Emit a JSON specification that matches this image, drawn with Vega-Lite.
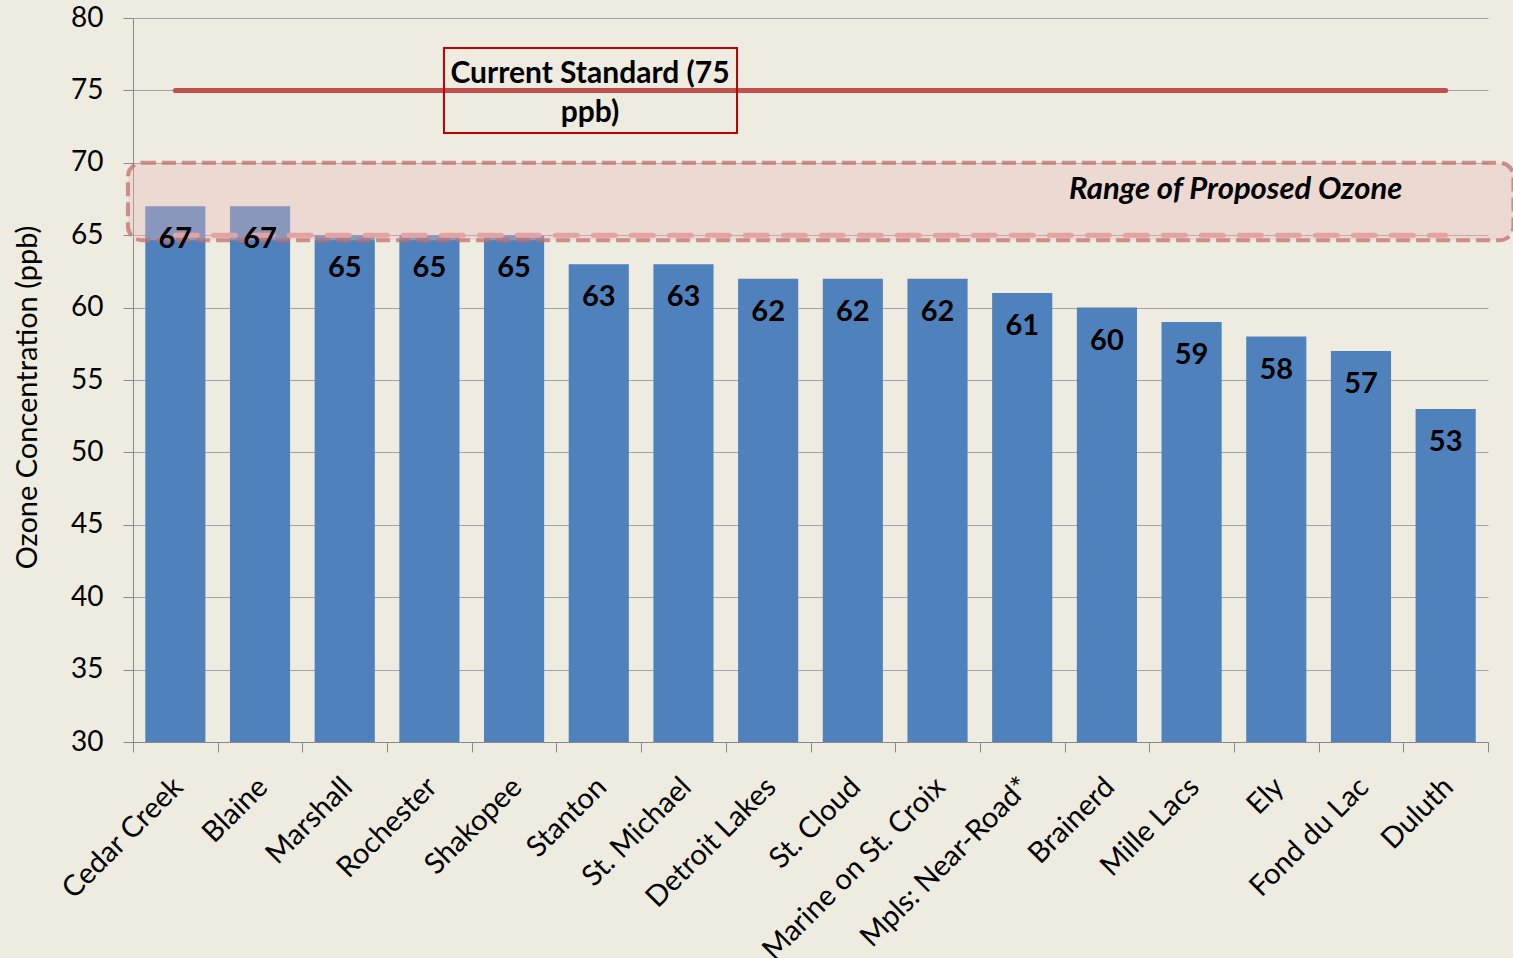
{
  "$schema": "https://vega.github.io/schema/vega-lite/v6.json",
  "width": 1355,
  "height": 724,
  "autosize": {"type": "none"},
  "padding": {"left": 133, "top": 18, "right": 25, "bottom": 216},
  "background": "#EEECE1",
  "config": {
    "view": {"stroke": null},
    "font": "Lato",
    "axis": {"labelColor": "#000000", "titleColor": "#000000", "domainColor": "#888888", "tickColor": "#888888", "gridColor": "#A3A3A3"}
  },
  "data": {
    "values": [
      {"site": "Cedar Creek", "value": 67},
      {"site": "Blaine", "value": 67},
      {"site": "Marshall", "value": 65},
      {"site": "Rochester", "value": 65},
      {"site": "Shakopee", "value": 65},
      {"site": "Stanton", "value": 63},
      {"site": "St. Michael", "value": 63},
      {"site": "Detroit Lakes", "value": 62},
      {"site": "St. Cloud", "value": 62},
      {"site": "Marine on St. Croix", "value": 62},
      {"site": "Mpls: Near-Road*", "value": 61},
      {"site": "Brainerd", "value": 60},
      {"site": "Mille Lacs", "value": 59},
      {"site": "Ely", "value": 58},
      {"site": "Fond du Lac", "value": 57},
      {"site": "Duluth", "value": 53}
    ]
  },
  "layer": [
    {
      "mark": {"type": "bar", "color": "#4F81BD"},
      "encoding": {
        "x": {
          "field": "site", "type": "nominal", "sort": null,
          "scale": {"paddingInner": 0.29, "paddingOuter": 0.145},
          "axis": {"title": null, "ticks": false, "tickSize": 0, "domain": false, "labelAngle": -45, "labelAlign": "right", "labelBaseline": "middle", "labelFontSize": 29, "labelPadding": 40, "labelOffset": 3, "labelLimit": 400}
        },
        "y": {
          "field": "value", "type": "quantitative",
          "scale": {"domain": [30, 80], "nice": false, "zero": false},
          "axis": {"title": "Ozone Concentration (ppb)", "titleFontSize": 29, "titleFontWeight": "normal", "titlePadding": 28, "titleY": 379, "values": [30, 35, 40, 45, 50, 55, 60, 65, 70, 75, 80], "grid": true, "tickSize": 10, "labelFontSize": 28, "labelPadding": 20, "domain": true}
        },
        "y2": {"datum": 30}
      }
    },
    {
      "data": {"values": [{"note": "annotation"}]},
      "layer": [
        {
          "mark": {"type": "rect", "cornerRadius": 14, "fill": "#E8BABA", "fillOpacity": 0.38, "stroke": "#C0706C", "strokeOpacity": 0.75, "strokeWidth": 4, "strokeDash": [14, 6]},
          "encoding": {
            "x": {"datum": -0.06, "type": "quantitative", "scale": {"domain": [0, 16], "nice": false, "zero": false},
              "axis": {"orient": "bottom", "title": null, "labels": false, "grid": false, "values": [0,1,2,3,4,5,6,7,8,9,10,11,12,13,14,15,16], "tickSize": 10, "domain": true}},
            "x2": {"datum": 16.3},
            "y": {"datum": 70},
            "y2": {"datum": 64.65}
          }
        },
        {
          "mark": {"type": "rule", "stroke": "#E3A3A3", "strokeWidth": 5, "strokeDash": [22, 16], "strokeCap": "round"},
          "encoding": {"x": {"datum": 0.5, "type": "quantitative"}, "x2": {"datum": 15.5}, "y": {"datum": 65}}
        },
        {
          "mark": {"type": "rule", "stroke": "#C0504D", "strokeWidth": 5, "strokeCap": "round"},
          "encoding": {"x": {"datum": 0.5, "type": "quantitative"}, "x2": {"datum": 15.5}, "y": {"datum": 75}}
        },
        {
          "mark": {"type": "rect", "fill": "transparent", "stroke": "#C00000", "strokeWidth": 2},
          "encoding": {"x": {"datum": 3.672, "type": "quantitative"}, "x2": {"datum": 7.132}, "y": {"datum": 77.93}, "y2": {"datum": 72.06}}
        },
        {
          "mark": {"type": "text", "fontWeight": "bold", "fontSize": 30, "align": "center", "baseline": "middle", "lineHeight": 39, "color": "#000000"},
          "encoding": {"x": {"datum": 5.396, "type": "quantitative"}, "y": {"datum": 76.1}, "text": {"value": ["Current Standard (75", "ppb)"]}}
        },
        {
          "mark": {"type": "text", "fontWeight": "bold", "fontStyle": "italic", "fontSize": 31, "align": "center", "baseline": "middle", "color": "#000000"},
          "encoding": {"x": {"datum": 13.02, "type": "quantitative"}, "y": {"datum": 68.1}, "text": {"value": "Range of Proposed Ozone"}}
        }
      ]
    },
    {
      "mark": {"type": "text", "dy": 33, "fontWeight": "bold", "fontSize": 29, "baseline": "middle", "color": "#000000"},
      "encoding": {
        "x": {"field": "site", "type": "nominal", "sort": null, "scale": {"paddingInner": 0.29, "paddingOuter": 0.145}, "axis": null},
        "y": {"field": "value", "type": "quantitative"},
        "text": {"field": "value", "type": "quantitative"}
      }
    }
  ],
  "resolve": {"scale": {"x": "independent"}, "axis": {"x": "independent"}}
}
